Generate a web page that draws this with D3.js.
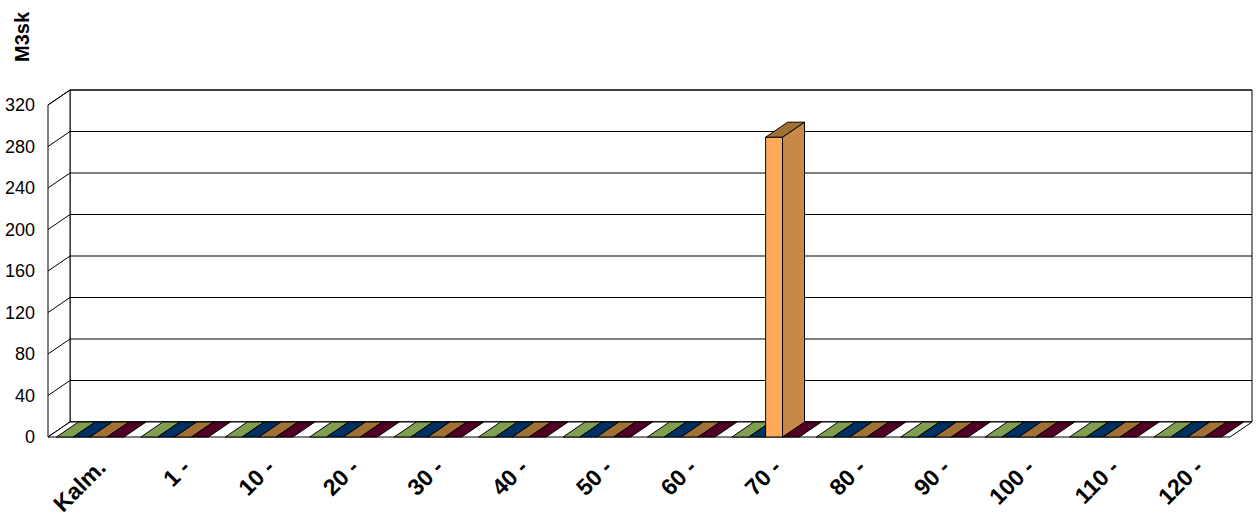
<!DOCTYPE html>
<html><head><meta charset="utf-8">
<script src="https://cdn.jsdelivr.net/npm/d3@7"></script>
<style>body{margin:0;background:#fff}svg{display:block}</style>
</head><body>
<svg id="c" width="1258" height="520"></svg>
<script>
const categories = ["Kalm.","1 -","10 -","20 -","30 -","40 -","50 -","60 -","70 -","80 -","90 -","100 -","110 -","120 -"];
const seriesNames = ["S1","S2","S3","S4"];
const seriesGreen  = [0,0,0,0,0,0,0,0,0,0,0,0,0,0];
const seriesNavy   = [0,0,0,0,0,0,0,0,0,0,0,0,0,0];
const seriesOrange = [0,0,0,0,0,0,0,0,289,0,0,0,0,0];
const seriesMaroon = [0,0,0,0,0,0,0,0,0,0,0,0,0,0];
const yTicks = [0,40,80,120,160,200,240,280,320];
const yTitle = "M3sk";

const seriesData = [seriesGreen, seriesNavy, seriesOrange, seriesMaroon];
const colors = [
  {front:"#9FC060", side:"#8CAA55", top:"#7F9E50"},
  {front:"#004080", side:"#003870", top:"#003062"},
  {front:"#FFAA58", side:"#C8884A", top:"#A07035"},
  {front:"#700030", side:"#600028", top:"#4F0024"}
];

const svg = d3.select("#c");
const X0 = 48, X1 = 1230, DX = 22, DY = -15;
const y = d3.scaleLinear().domain([0,320]).range([437,105]);
const x = d3.scaleBand().domain(categories).range([X0,X1]).paddingInner(0.2).paddingOuter(0.1);
const xs = d3.scaleBand().domain(seriesNames).range([0,x.bandwidth()]);

const g = svg.append("g");
const pts = a => a.map(p=>p.join(",")).join(" ");

g.append("polygon").attr("points", pts([[X0+DX,y(0)+DY],[X1+DX,y(0)+DY],[X1+DX,y(320)+DY],[X0+DX,y(320)+DY]]))
  .attr("fill","#fff").attr("stroke","#000").attr("stroke-width",1);
g.append("polygon").attr("points", pts([[X0,y(0)],[X0,y(320)],[X0+DX,y(320)+DY],[X0+DX,y(0)+DY]]))
  .attr("fill","#fff").attr("stroke","#000").attr("stroke-width",1);
yTicks.forEach(v=>{
  g.append("polyline").attr("points", pts([[X0,y(v)],[X0+DX,y(v)+DY],[X1+DX,y(v)+DY]]))
    .attr("fill","none").attr("stroke","#000").attr("stroke-width",1);
});
g.append("polygon").attr("points", pts([[X0,y(0)],[X1,y(0)],[X1+DX,y(0)+DY],[X0+DX,y(0)+DY]]))
  .attr("fill","#fff").attr("stroke","#000").attr("stroke-width",1);

const bars = [];
categories.forEach((c,i)=>{
  seriesData.forEach((s,j)=>{ bars.push({c, j, v:s[i]}); });
});
bars.sort((a,b)=> (a.v>0) - (b.v>0));
const bw = xs.bandwidth();
bars.forEach(b=>{
  const xl = x(b.c) + xs(seriesNames[b.j]);
  const yt = y(b.v), yb = y(0);
  const col = colors[b.j];
  const bg = g.append("g").attr("stroke","#000").attr("stroke-width",1).attr("stroke-linejoin","round");
  if (b.v > 0) {
    bg.append("polygon").attr("points", pts([[xl,yt],[xl+bw,yt],[xl+bw,yb],[xl,yb]])).attr("fill",col.front);
    bg.append("polygon").attr("points", pts([[xl+bw,yt],[xl+bw+DX,yt+DY],[xl+bw+DX,yb+DY],[xl+bw,yb]])).attr("fill",col.side);
  }
  bg.append("polygon").attr("points", pts([[xl,yt],[xl+bw,yt],[xl+bw+DX,yt+DY],[xl+DX,yt+DY]])).attr("fill",col.top);
});

g.selectAll(".yl").data(yTicks).enter().append("text")
  .attr("x",35).attr("y",d=>y(d)).attr("dy","0.36em").attr("text-anchor","end")
  .attr("font-family","Arial, Liberation Sans, sans-serif").attr("font-size",18).attr("fill","#000")
  .text(d=>d);

g.selectAll(".xl").data(categories).enter().append("text")
  .attr("transform",d=>`translate(${x(d)+x.bandwidth()/2+17},469) rotate(-45)`)
  .attr("text-anchor","end")
  .attr("font-family","Arial, Liberation Sans, sans-serif").attr("font-weight","bold").attr("font-size",23).attr("fill","#000")
  .text(d=>d);

g.append("text").attr("transform","translate(29,37) rotate(-90)").attr("text-anchor","middle")
  .attr("font-family","Arial, Liberation Sans, sans-serif").attr("font-weight","bold").attr("font-size",20).attr("fill","#000")
  .text(yTitle);
</script>
</body></html>
